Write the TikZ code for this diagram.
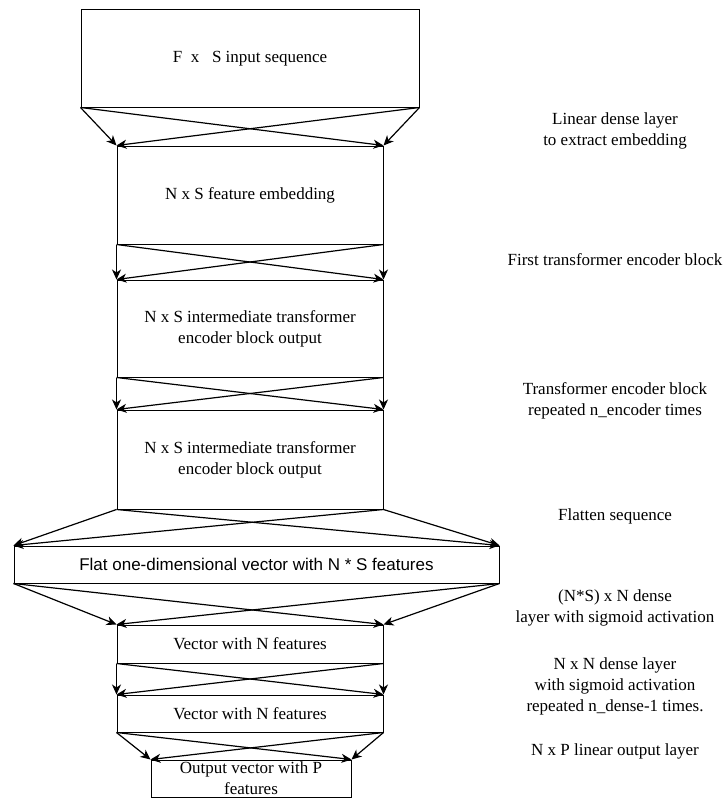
\documentclass[tikz,border=0pt]{standalone}
\usepackage{fontspec}
\setmainfont{Liberation Serif}
\setsansfont{Liberation Sans}
\usetikzlibrary{arrows.meta}
\begin{document}
\begin{tikzpicture}[x=1pt,y=-1pt,
  box/.style={draw, line width=1pt, inner sep=0pt, font=\fontsize{17}{21}\selectfont, align=center},
  lbl/.style={inner sep=0pt, font=\fontsize{17}{21}\selectfont, align=center},
  arr/.style={line width=1.2pt, -{Stealth[length=10pt,width=9pt,inset=3pt]}}]
\useasboundingbox (0,0) rectangle (725,800);
% boxes
\node[box, minimum width=338pt, minimum height=97pt] (b1) at (250,58.5) {F~~x~~~S input sequence};
\node[box, minimum width=266pt, minimum height=98pt] (b2) at (250,195) {N x S feature embedding};
\node[box, minimum width=266pt, minimum height=97pt] (b3) at (250,328.5) {N x S intermediate transformer\\encoder block output};
\node[box, minimum width=266pt, minimum height=99pt] (b4) at (250,459.5) {N x S intermediate transformer\\encoder block output};
\node[box, minimum width=485pt, minimum height=37pt, font=\sffamily\fontsize{17}{21}\selectfont] (flat) at (256.5,564.5) {Flat one-dimensional vector with N * S features};
\node[box, minimum width=266pt, minimum height=38pt] (b5) at (250,644) {Vector with N features};
\node[box, minimum width=266pt, minimum height=37pt] (b6) at (250,713.5) {Vector with N features};
\node[box, minimum width=200pt, minimum height=37pt] (out) at (251,778.5) {Output vector with P\\features};
% connectors
\foreach \a/\b in {b1/b2, b2/b3, b3/b4, b4/flat, flat/b5, b5/b6, b6/out}{
  \draw[arr] (\a.south west) -- (\b.north west);
  \draw[arr] (\a.south west) -- (\b.north east);
  \draw[arr] (\a.south east) -- (\b.north east);
  \draw[arr] (\a.south east) -- (\b.north west);
}
% labels
\node[lbl] (l1) at (615,131) {Linear dense layer\\to extract embedding};
\node[lbl] (l2) at (615,260) {First transformer encoder block};
\node[lbl] (l3) at (615,400.5) {Transformer encoder block\\repeated n\_encoder times};
\node[lbl] (l4) at (615,516) {Flatten sequence};
\node[lbl] (l5) at (615,607.5) {(N*S) x N dense\\layer with sigmoid activation};
\node[lbl] (l6) at (615,686.5) {N x N dense layer\\with sigmoid activation\\repeated n\_dense-1 times.};
\node[lbl] (l7) at (615,751) {N x P linear output layer};
\end{tikzpicture}
\end{document}
